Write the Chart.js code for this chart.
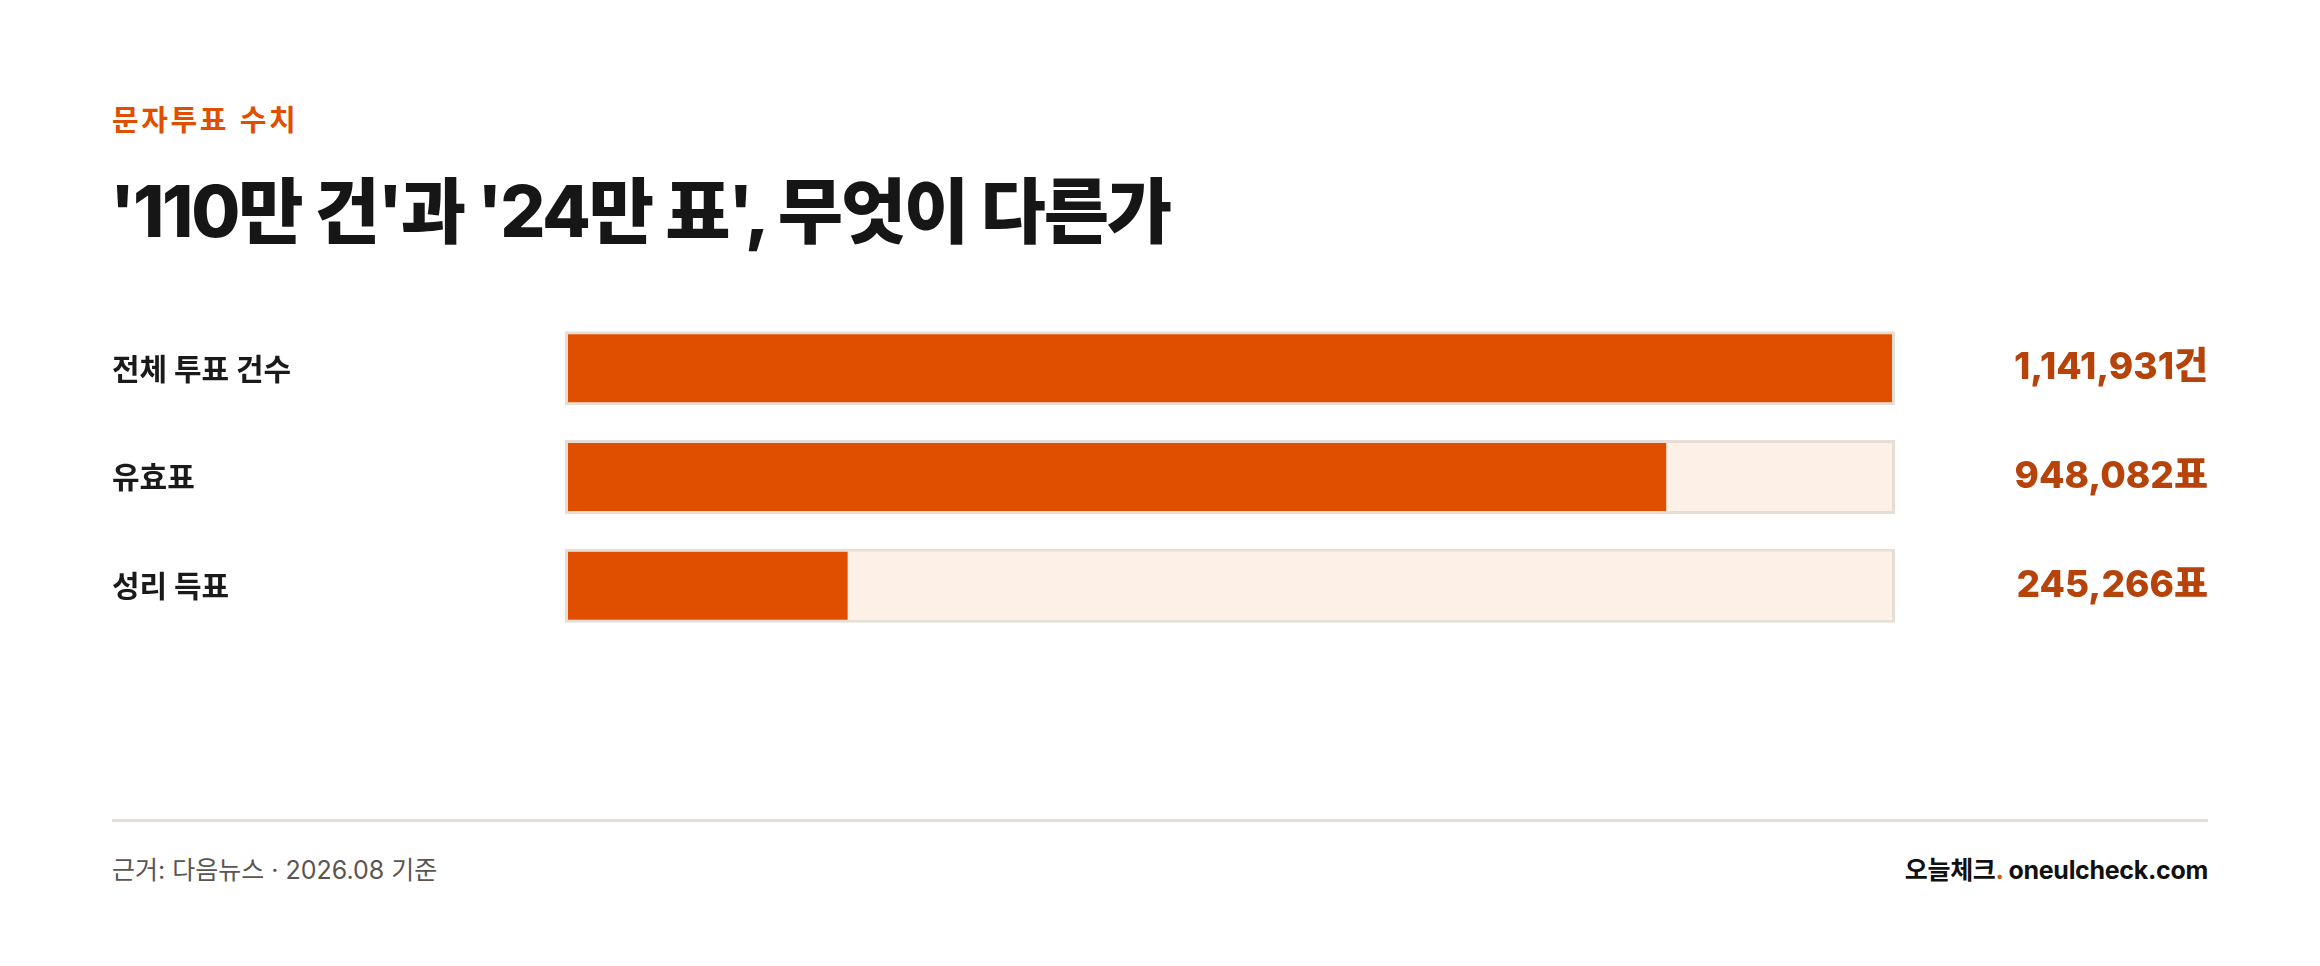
<!DOCTYPE html>
<html lang="ko">
<head>
<meta charset="utf-8">
<title>문자투표 수치</title>
<script src="https://cdn.jsdelivr.net/npm/chart.js@4.4.1/dist/chart.umd.min.js"></script>
<style>
  html, body { margin: 0; padding: 0; background: #fff; }
  body { width: 2320px; height: 966px; position: relative; overflow: hidden;
         font-family: "Inter", "Noto Sans CJK KR", sans-serif; }
  .kicker { position: absolute; left: 112px; top: 98px; font-size: 29px; font-weight: 700;
            color: #e04e00; letter-spacing: 2.6px; line-height: 40px;
            font-family: "Noto Sans CJK KR", sans-serif; }
  .title { position: absolute; left: 110px; top: 166px; font-size: 71px; font-weight: 800;
           color: #161616; letter-spacing: -2.2px; line-height: 90px; }
  .chartBox { position: absolute; left: 112px; top: 314px; width: 2096px; height: 326px; }
  .rule { position: absolute; left: 112px; top: 819px; width: 2096px; height: 3px; background: #e8ddd3; }
  .source { position: absolute; left: 112px; top: 853px; font-size: 25px; color: #5a5550; line-height: 34px; }
  .brand { position: absolute; right: 112px; top: 853px; font-size: 25px; font-weight: 700;
           color: #111; line-height: 34px; letter-spacing: -0.3px; }
  .brand span { color: #e04e00; }
</style>
</head>
<body>
<div class="kicker">문자투표 수치</div>
<div class="title">'110만 건'과 '24만 표', 무엇이 다른가</div>
<div class="chartBox"><canvas id="voteChart"></canvas></div>
<div class="rule"></div>
<div class="source">근거: 다음뉴스 · 2026.08 기준</div>
<div class="brand">오늘체크<span>.</span> oneulcheck.com</div>

<script>
// 데이터
const categories = ['전체 투표 건수', '유효표', '성리 득표'];
const counts = [1141931, 948082, 245266];
const trackValues = [1141931, 1141931, 1141931]; // 전체 대비 배경 막대
const valueLabels = ['1,141,931건', '948,082표', '245,266표'];

const ctx = document.getElementById('voteChart');

// 축 라벨 높이만큼 위아래 여백이 생기지 않게
const fitAxis = (width) => (scale) => {
  scale.width = width;
  scale.paddingTop = 0;
  scale.paddingBottom = 0;
};

new Chart(ctx, {
  type: 'bar',
  data: {
    labels: categories,
    datasets: [
      {
        // 실제 값 (위에 그림)
        data: counts,
        backgroundColor: '#e04e00',
        borderColor: 'rgba(0,0,0,0)',
        borderWidth: 3,
        borderSkipped: false,
        barThickness: 74,
        inflateAmount: 0,
        order: 0
      },
      {
        // 배경 트랙
        data: trackValues,
        backgroundColor: '#fdf0e7',
        borderColor: '#e8ddd3',
        borderWidth: 3,
        borderSkipped: false,
        barThickness: 74,
        inflateAmount: 0,
        order: 1
      }
    ]
  },
  options: {
    indexAxis: 'y',
    responsive: true,
    maintainAspectRatio: false,
    animation: false,
    layout: { padding: 0 },
    datasets: { bar: { grouped: false } },
    plugins: {
      legend: { display: false },
      tooltip: { enabled: false }
    },
    scales: {
      x: {
        display: false,
        min: 0,
        max: trackValues[0]
      },
      y: {
        position: 'left',
        grid: { display: false },
        border: { display: false },
        afterFit: fitAxis(453),
        ticks: {
          crossAlign: 'far',
          color: '#1a1a1a',
          font: { family: '"Noto Sans CJK KR", sans-serif', size: 30, weight: '700' }
        }
      },
      y2: {
        type: 'category',
        position: 'right',
        offset: true,
        grid: { display: false },
        border: { display: false },
        afterFit: fitAxis(313),
        ticks: {
          crossAlign: 'far',
          color: '#b5430a',
          font: { family: '"Inter", "Noto Sans CJK KR", sans-serif', size: 37, weight: '800' },
          callback: (value, index) => valueLabels[index]
        }
      }
    }
  }
});
</script>
</body>
</html>
